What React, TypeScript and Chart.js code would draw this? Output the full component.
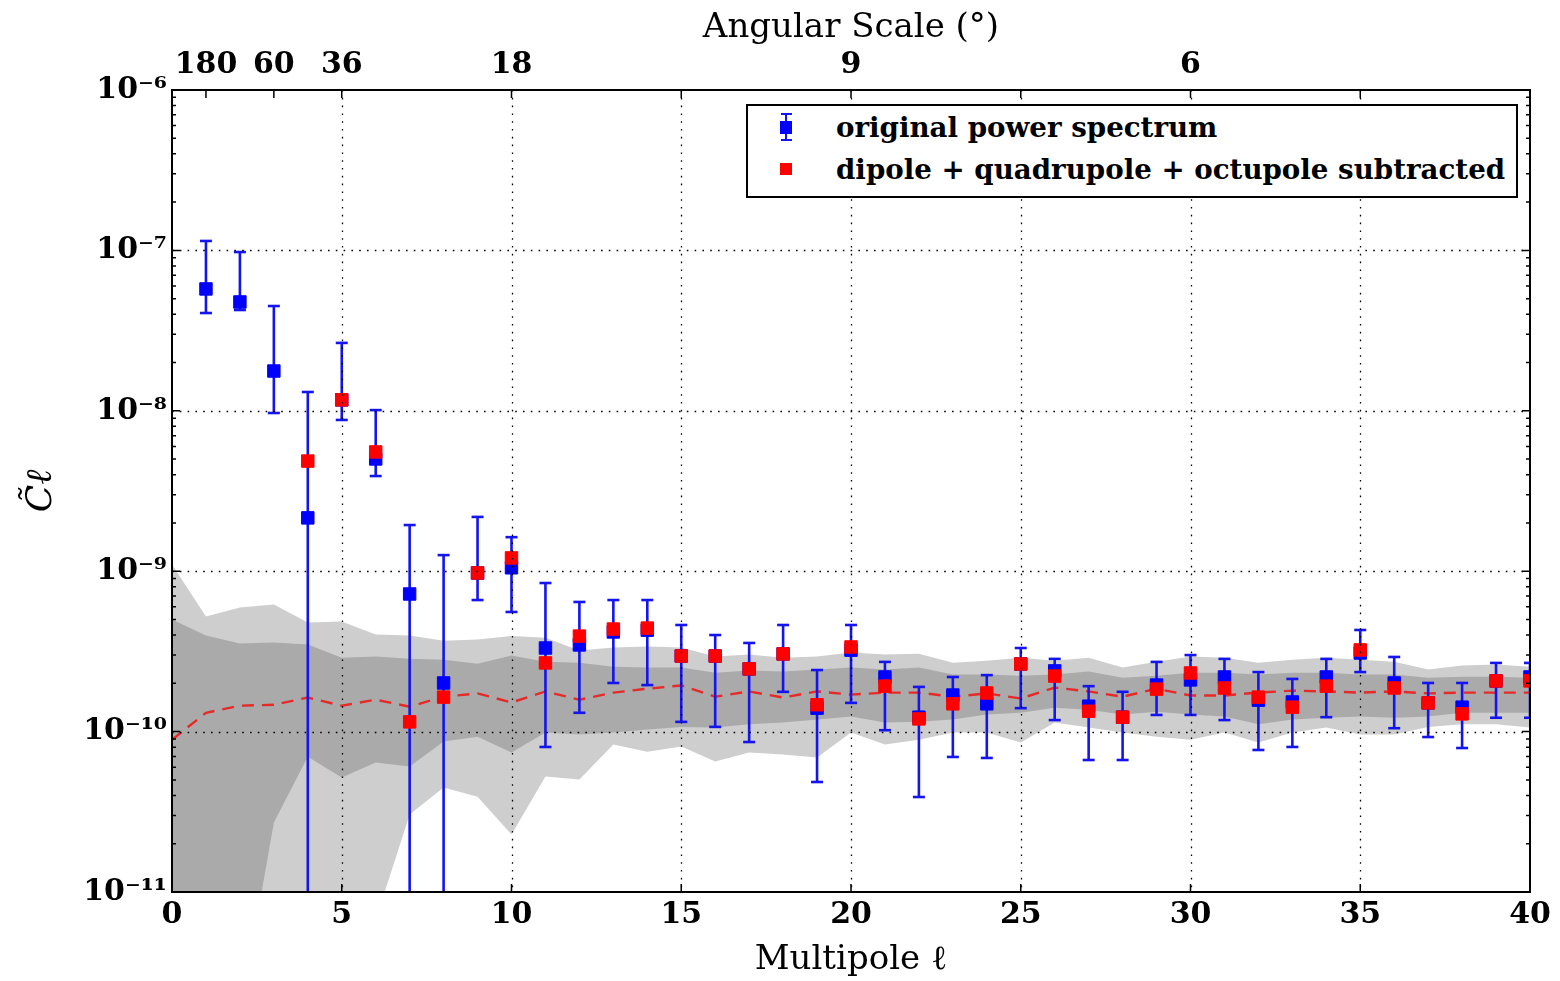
import React, { useEffect, useRef } from "react";
import { Chart, registerables } from "chart.js";

Chart.register(...registerables);

const SERIF = "'DejaVu Serif', 'Liberation Serif', serif";

// ---- data ----
const ells = [1, 2, 3, 4, 5, 6, 7, 8, 9, 10, 11, 12, 13, 14, 15, 16, 17, 18, 19, 20, 21, 22, 23, 24, 25, 26, 27, 28, 29, 30, 31, 32, 33, 34, 35, 36, 37, 38, 39, 40];
const originalCl = [5.75e-8, 4.77e-8, 1.77e-8, 2.15e-9, 1.17e-8, 5.01e-9, 7.21e-10, 2.01e-10, 9.75e-10, 1.05e-9, 3.32e-10, 3.47e-10, 4.18e-10, 4.29e-10, 2.96e-10, 2.96e-10, 2.46e-10, 3.05e-10, 1.4e-10, 3.22e-10, 2.19e-10, 1.23e-10, 1.69e-10, 1.49e-10, 2.64e-10, 2.39e-10, 1.44e-10, 1.23e-10, 1.95e-10, 2.1e-10, 2.19e-10, 1.57e-10, 1.53e-10, 2.19e-10, 3.09e-10, 2.01e-10, 1.51e-10, 1.42e-10, 2.07e-10, 2.19e-10];
const originalLow = [4.07e-8, 4.25e-8, 9.69e-9, 1e-13, 8.77e-9, 3.92e-9, 1e-13, 1e-13, 6.61e-10, 5.57e-10, 8.02e-11, 1.31e-10, 2.01e-10, 1.95e-10, 1.15e-10, 1.07e-10, 8.61e-11, 1.77e-10, 4.85e-11, 1.51e-10, 1.02e-10, 3.91e-11, 6.95e-11, 6.85e-11, 1.4e-10, 1.18e-10, 6.65e-11, 6.65e-11, 1.27e-10, 1.27e-10, 1.18e-10, 7.68e-11, 8.02e-11, 1.23e-10, 2.35e-10, 1.05e-10, 9.25e-11, 7.9e-11, 1.22e-10, 1.22e-10];
const originalHigh = [1.145e-7, 9.77e-8, 4.5e-8, 1.31e-8, 2.65e-8, 1.01e-8, 1.94e-9, 1.26e-9, 2.18e-9, 1.63e-9, 8.44e-10, 6.43e-10, 6.61e-10, 6.61e-10, 4.62e-10, 4.0e-10, 3.57e-10, 4.62e-10, 2.42e-10, 4.62e-10, 2.72e-10, 1.9e-10, 2.19e-10, 2.25e-10, 3.32e-10, 2.84e-10, 1.92e-10, 1.77e-10, 2.72e-10, 3.0e-10, 2.84e-10, 2.35e-10, 2.13e-10, 2.84e-10, 4.3e-10, 2.92e-10, 2.01e-10, 2.01e-10, 2.68e-10, 2.68e-10];

const subtractedEll = [4, 5, 6, 7, 8, 9, 10, 11, 12, 13, 14, 15, 16, 17, 18, 19, 20, 21, 22, 23, 24, 25, 26, 27, 28, 29, 30, 31, 32, 33, 34, 35, 36, 37, 38, 39, 40];
const subtractedCl = [4.86e-9, 1.17e-8, 5.54e-9, 1.15e-10, 1.64e-10, 9.75e-10, 1.21e-9, 2.68e-10, 3.94e-10, 4.36e-10, 4.42e-10, 2.96e-10, 2.96e-10, 2.46e-10, 3.05e-10, 1.47e-10, 3.37e-10, 1.92e-10, 1.2e-10, 1.49e-10, 1.74e-10, 2.64e-10, 2.22e-10, 1.34e-10, 1.23e-10, 1.84e-10, 2.32e-10, 1.87e-10, 1.64e-10, 1.42e-10, 1.92e-10, 3.23e-10, 1.87e-10, 1.51e-10, 1.29e-10, 2.07e-10, 2.07e-10];

const bandEll = [0, 1, 2, 3, 4, 5, 6, 7, 8, 9, 10, 11, 12, 13, 14, 15, 16, 17, 18, 19, 20, 21, 22, 23, 24, 25, 26, 27, 28, 29, 30, 31, 32, 33, 34, 35, 36, 37, 38, 39, 40];
const outerBandHigh = [1.1e-9, 5.21e-10, 5.93e-10, 6.19e-10, 4.78e-10, 4.85e-10, 4.03e-10, 3.97e-10, 3.69e-10, 3.75e-10, 3.94e-10, 3.85e-10, 3.2e-10, 3.34e-10, 3.39e-10, 3.34e-10, 2.94e-10, 3.02e-10, 2.89e-10, 2.94e-10, 3.11e-10, 3.02e-10, 3.06e-10, 2.69e-10, 2.77e-10, 2.89e-10, 2.77e-10, 2.89e-10, 2.51e-10, 2.73e-10, 2.94e-10, 2.89e-10, 2.69e-10, 2.81e-10, 2.89e-10, 2.81e-10, 2.73e-10, 2.44e-10, 2.58e-10, 2.62e-10, 2.54e-10];
const outerBandLow = [1e-13, 1e-13, 1e-13, 1e-13, 1e-13, 1e-13, 6.7e-12, 3.04e-11, 4.48e-11, 3.93e-11, 2.28e-11, 5.24e-11, 5.02e-11, 8.3e-11, 7.5e-11, 8.06e-11, 6.5e-11, 7.4e-11, 7.19e-11, 6.89e-11, 9.86e-11, 8.3e-11, 8.9e-11, 9.86e-11, 9.86e-11, 8.54e-11, 1.14e-10, 1.06e-10, 9.86e-11, 9.3e-11, 8.9e-11, 9.86e-11, 8.54e-11, 9.86e-11, 1.06e-10, 9.6e-11, 9.6e-11, 1.07e-10, 1.11e-10, 1.11e-10, 1.06e-10];
const innerBandHigh = [4.99e-10, 3.97e-10, 3.54e-10, 3.59e-10, 3.49e-10, 2.89e-10, 2.94e-10, 2.85e-10, 2.81e-10, 2.65e-10, 2.98e-10, 2.73e-10, 2.69e-10, 2.54e-10, 2.51e-10, 2.51e-10, 2.33e-10, 2.4e-10, 2.37e-10, 2.44e-10, 2.51e-10, 2.44e-10, 2.51e-10, 2.27e-10, 2.27e-10, 2.23e-10, 2.27e-10, 2.37e-10, 2.17e-10, 2.23e-10, 2.33e-10, 2.33e-10, 2.27e-10, 2.33e-10, 2.33e-10, 2.27e-10, 2.27e-10, 2.17e-10, 2.2e-10, 2.2e-10, 2.17e-10];
const innerBandLow = [1e-13, 1e-13, 1.7e-12, 2.71e-11, 6.98e-11, 5.17e-11, 6.41e-11, 6.05e-11, 8.67e-11, 9.3e-11, 7.4e-11, 9.86e-11, 9.6e-11, 9.86e-11, 1.03e-10, 1.07e-10, 1.06e-10, 1.11e-10, 1.14e-10, 1.19e-10, 1.24e-10, 1.14e-10, 1.15e-10, 1.19e-10, 1.28e-10, 1.31e-10, 1.41e-10, 1.37e-10, 1.28e-10, 1.33e-10, 1.28e-10, 1.24e-10, 1.11e-10, 1.19e-10, 1.22e-10, 1.24e-10, 1.22e-10, 1.24e-10, 1.31e-10, 1.31e-10, 1.31e-10];
const meanCl = [8.9e-11, 1.31e-10, 1.45e-10, 1.47e-10, 1.63e-10, 1.45e-10, 1.58e-10, 1.43e-10, 1.65e-10, 1.73e-10, 1.52e-10, 1.78e-10, 1.58e-10, 1.75e-10, 1.85e-10, 1.94e-10, 1.65e-10, 1.78e-10, 1.63e-10, 1.78e-10, 1.7e-10, 1.75e-10, 1.75e-10, 1.65e-10, 1.73e-10, 1.61e-10, 1.88e-10, 1.78e-10, 1.65e-10, 1.85e-10, 1.68e-10, 1.68e-10, 1.75e-10, 1.8e-10, 1.78e-10, 1.75e-10, 1.78e-10, 1.73e-10, 1.75e-10, 1.75e-10, 1.75e-10];

const xTickValues = [0, 5, 10, 15, 20, 25, 30, 35, 40];
const xTickLabels = ["0", "5", "10", "15", "20", "25", "30", "35", "40"];
const yTickValues = [1e-11, 1e-10, 1e-9, 1e-8, 1e-7, 1e-6];
const yTickLabels = ["10⁻¹¹", "10⁻¹⁰", "10⁻⁹", "10⁻⁸", "10⁻⁷", "10⁻⁶"];
const yMinorMultipliers = [2, 3, 4, 5, 6, 7, 8, 9];
const topTickEll = [1, 3, 5, 10, 20, 30];
const topTickLabels = ["180", "60", "36", "18", "9", "6"];

const BLUE = "#0000ff";
const ERR_BLUE = "#1414ee";
const RED = "#ff0000";

const mplAxesPlugin = {
  id: "mplAxes",
  afterDatasetsDraw(chart: any) {
    const { ctx, chartArea: a, scales } = chart;
    const xs = scales.x;
    const ys = scales.y;
    ctx.save();
    // dotted grid
    ctx.strokeStyle = "#000";
    ctx.lineWidth = 1.3;
    ctx.setLineDash([1.6, 6.2]);
    ctx.beginPath();
    for (const v of xTickValues) {
      const px = Math.round(xs.getPixelForValue(v)) + 0.5;
      if (px <= a.left + 2 || px >= a.right - 2) continue;
      ctx.moveTo(px, a.top);
      ctx.lineTo(px, a.bottom);
    }
    for (const v of yTickValues) {
      const py = Math.round(ys.getPixelForValue(v)) + 0.5;
      if (py <= a.top + 2 || py >= a.bottom - 2) continue;
      ctx.moveTo(a.left, py);
      ctx.lineTo(a.right, py);
    }
    ctx.stroke();
    ctx.setLineDash([]);
    // inward ticks
    ctx.lineWidth = 1.5;
    ctx.beginPath();
    for (const v of xTickValues) {
      const px = xs.getPixelForValue(v);
      ctx.moveTo(px, a.bottom);
      ctx.lineTo(px, a.bottom - 8);
      ctx.moveTo(px, a.top);
      ctx.lineTo(px, a.top + 8);
    }
    for (const v of topTickEll) {
      const px = scales.xTop.getPixelForValue(v);
      ctx.moveTo(px, a.top);
      ctx.lineTo(px, a.top + 8);
    }
    for (const v of yTickValues) {
      const py = ys.getPixelForValue(v);
      ctx.moveTo(a.left, py);
      ctx.lineTo(a.left + 8, py);
      ctx.moveTo(a.right, py);
      ctx.lineTo(a.right - 8, py);
    }
    for (let i = 0; i < yTickValues.length - 1; i++) {
      for (const m of yMinorMultipliers) {
        const py = ys.getPixelForValue(m * yTickValues[i]);
        ctx.moveTo(a.left, py);
        ctx.lineTo(a.left + 4, py);
        ctx.moveTo(a.right, py);
        ctx.lineTo(a.right - 4, py);
      }
    }
    ctx.stroke();
    // frame
    ctx.lineWidth = 2;
    ctx.strokeRect(a.left, a.top, a.right - a.left, a.bottom - a.top);
    ctx.restore();
  },
};

function ChartCanvas() {
  const ref = useRef<HTMLCanvasElement | null>(null);
  useEffect(() => {
    if (!ref.current) return;
    const bandLine = (vals: number[], order: number, fill: any, bg: string) => ({
      type: "line",
      data: bandEll.map((l, i) => ({ x: l, y: vals[i] })),
      borderColor: "transparent",
      borderWidth: 0,
      pointRadius: 0,
      backgroundColor: bg,
      fill,
      order,
      clip: 0,
      tension: 0,
    });
    const stems: any[] = [];
    ells.forEach((l, i) => {
      stems.push({ x: l, y: originalLow[i] });
      stems.push({ x: l, y: originalHigh[i] });
      stems.push({ x: l, y: null });
    });
    const chart = new Chart(ref.current, {
      type: "scatter",
      data: {
        datasets: [
          bandLine(outerBandLow, 20, false, "transparent"),
          bandLine(outerBandHigh, 19, "-1", "#cecece"),
          bandLine(innerBandLow, 18, false, "transparent"),
          bandLine(innerBandHigh, 17, "-1", "#aaaaaa"),
          {
            type: "line",
            data: bandEll.map((l, i) => ({ x: l, y: meanCl[i] })),
            borderColor: "#e52a2a",
            borderWidth: 2.4,
            borderDash: [12, 8],
            pointRadius: 0,
            fill: false,
            order: 10,
            clip: 0,
          },
          {
            type: "line",
            data: stems,
            borderColor: ERR_BLUE,
            borderWidth: 2.6,
            pointRadius: 0,
            spanGaps: false,
            fill: false,
            order: 5,
            clip: 0,
          },
          {
            data: ells.map((l, i) => ({ x: l, y: originalLow[i] })),
            pointStyle: "line",
            pointRadius: 6,
            pointBorderWidth: 2.6,
            pointBorderColor: ERR_BLUE,
            order: 5,
            clip: 0,
          },
          {
            data: ells.map((l, i) => ({ x: l, y: originalHigh[i] })),
            pointStyle: "line",
            pointRadius: 6,
            pointBorderWidth: 2.6,
            pointBorderColor: ERR_BLUE,
            order: 5,
            clip: 0,
          },
          {
            label: "original power spectrum",
            data: ells.map((l, i) => ({ x: l, y: originalCl[i] })),
            pointStyle: "rect",
            pointRadius: 8.8,
            pointBackgroundColor: BLUE,
            pointBorderColor: BLUE,
            pointBorderWidth: 1,
            order: 3,
            clip: 0,
          },
          {
            label: "dipole + quadrupole + octupole subtracted",
            data: subtractedEll.map((l, i) => ({ x: l, y: subtractedCl[i] })),
            pointStyle: "rect",
            pointRadius: 8.8,
            pointBackgroundColor: RED,
            pointBorderColor: RED,
            pointBorderWidth: 1,
            order: 1,
            clip: 0,
          },
        ] as any,
      },
      options: {
        responsive: false,
        animation: false,
        events: [],
        layout: { padding: { left: 0, right: 30, top: 0, bottom: 0 } },
        plugins: {
          legend: { display: false },
          tooltip: { enabled: false },
        },
        scales: {
          x: {
            type: "linear",
            position: "bottom",
            min: 0,
            max: 40,
            offset: false,
            grid: { display: false, drawTicks: false, offset: false },
            border: { display: false },
            afterBuildTicks: (s: any) => {
              s.ticks = xTickValues.map((v) => ({ value: v }));
            },
            afterFit: (s: any) => {
              s.height = 89;
            },
            ticks: {
              autoSkip: false,
              maxRotation: 0,
              padding: 5,
              color: "#000",
              font: { family: SERIF, weight: "bold", size: 30 },
              callback: (_v: any, i: number) => xTickLabels[i],
            },
            title: {
              display: true,
              text: "Multipole ℓ",
              color: "#000",
              font: { family: SERIF, size: 34 },
              padding: { top: 0, bottom: 0 },
            },
          },
          xTop: {
            type: "linear",
            axis: "x",
            position: "top",
            min: 0,
            max: 40,
            offset: false,
            grid: { display: false, drawTicks: false, offset: false },
            border: { display: false },
            afterBuildTicks: (s: any) => {
              s.ticks = topTickEll.map((v) => ({ value: v }));
            },
            afterFit: (s: any) => {
              s.height = 90;
            },
            ticks: {
              autoSkip: false,
              maxRotation: 0,
              padding: 7,
              color: "#000",
              font: { family: SERIF, weight: "bold", size: 30 },
              callback: (_v: any, i: number) => topTickLabels[i],
            },
            title: {
              display: true,
              text: "Angular Scale (°)",
              color: "#000",
              font: { family: SERIF, size: 34 },
              padding: { top: 8, bottom: 0 },
            },
          },
          y: {
            type: "logarithmic",
            position: "left",
            min: 1e-11,
            max: 1e-6,
            grid: { display: false, drawTicks: false },
            border: { display: false },
            afterBuildTicks: (s: any) => {
              s.ticks = yTickValues.map((v) => ({ value: v, major: true }));
            },
            afterFit: (s: any) => {
              s.width = 172;
            },
            ticks: {
              autoSkip: false,
              padding: 5,
              color: "#000",
              font: { family: SERIF, weight: "bold", size: 30 },
              callback: (_v: any, i: number) => yTickLabels[i],
            },
            title: {
              display: true,
              text: "C̃ℓ",
              color: "#000",
              font: { family: SERIF, style: "italic", size: 36 },
              padding: { top: 20, bottom: 0 },
            },
          },
        },
      } as any,
      plugins: [mplAxesPlugin],
    });
    return () => chart.destroy();
  }, []);
  return <canvas ref={ref} width={1560} height={981} style={{ display: "block" }} />;
}

function Legend() {
  const font = { fontFamily: SERIF, fontWeight: "bold" as const, fontSize: 27.7, color: "#000", lineHeight: "34px" };
  return (
    <div
      style={{
        position: "absolute",
        left: 746,
        top: 104,
        width: 772,
        height: 94,
        border: "2px solid #000",
        boxSizing: "border-box",
        background: "#fff",
      }}
    >
      {/* error-bar icon */}
      <div style={{ position: "absolute", left: 37, top: 8, width: 2.4, height: 26, background: ERR_BLUE }} />
      <div style={{ position: "absolute", left: 32.5, top: 7, width: 11, height: 2.4, background: ERR_BLUE }} />
      <div style={{ position: "absolute", left: 32.5, top: 33, width: 11, height: 2.4, background: ERR_BLUE }} />
      <div style={{ position: "absolute", left: 32, top: 15, width: 12, height: 13, background: BLUE }} />
      <div style={{ position: "absolute", left: 88, top: 5, whiteSpace: "nowrap", ...font }}>original power spectrum</div>
      {/* red square icon */}
      <div style={{ position: "absolute", left: 32, top: 57, width: 12, height: 12, background: RED }} />
      <div style={{ position: "absolute", left: 88, top: 47, whiteSpace: "nowrap", ...font }}>
        dipole + quadrupole + octupole subtracted
      </div>
    </div>
  );
}

export default function App() {
  return (
    <div style={{ position: "fixed", left: 0, top: 0, width: 1560, height: 981, background: "#fff" }}>
      <ChartCanvas />
      <Legend />
    </div>
  );
}
